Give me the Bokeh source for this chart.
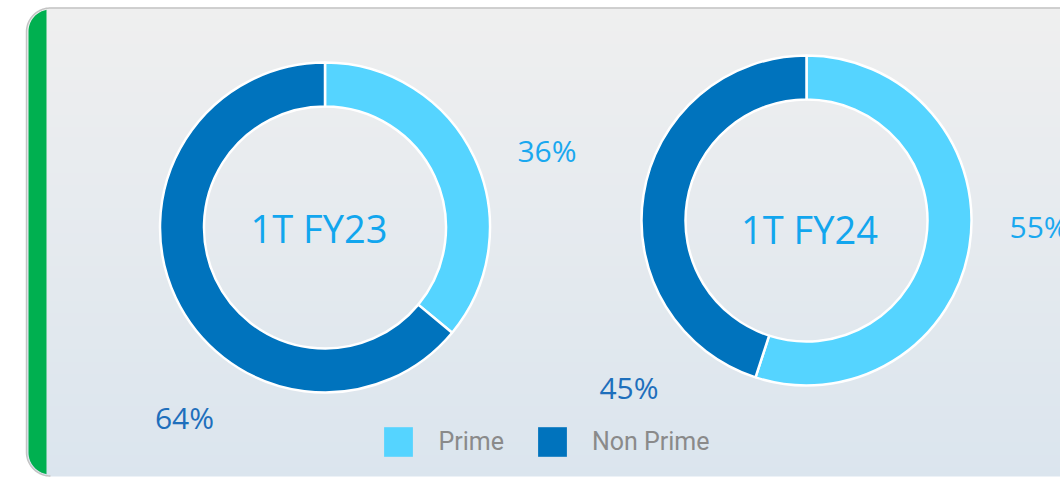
import numpy as np
from bokeh.plotting import figure
from bokeh.models import Range1d, ColumnDataSource, Legend, LegendItem
from bokeh.core.properties import value
from bokeh.embed import file_html
from bokeh.resources import INLINE

# ---------------- data ----------------
periods = ["1T FY23", "1T FY24"]
categories = ["Prime", "Non Prime"]
prime_pct = [36, 55]
non_prime_pct = [64, 45]
category_colors = ["#55d4ff", "#0073bd"]

# ---------------- layout (page pixels, y downward) ----------------
centers_x = [324.5, 806.0]
centers_y = [227.0, 220.0]
R_OUT, R_IN = 165, 121
title_pos = [(318.5, 227.0), (809.0, 228.5)]
prime_label_pos = [(546.5, 150.0, "center"), (1009.0, 225.5, "left")]
nonprime_label_pos = [(184.0, 416.5, "center"), (628.5, 386.5, "center")]
FONT = "Open Sans"
LEGEND_FONT = "Roboto"

W, H = 1060, 477
p = figure(width=W, height=H, x_range=Range1d(0, W), y_range=Range1d(-H, 0),
           output_backend="svg", toolbar_location=None,
           x_axis_location=None, y_axis_location=None, min_border=0)
p.grid.visible = False
p.outline_line_color = None
p.background_fill_color = "white"
p.border_fill_color = "white"

# ---------------- card background (vertical gradient) ----------------
CT, CL, CB = 7.0, 26.0, 476.0
step = 3
gy = np.arange(CT, CB, step)
t = (gy - CT) / (CB - CT)
c0 = np.array([239, 239, 239])
c1 = np.array([219, 229, 238])
gcols = ["#%02x%02x%02x" % tuple(np.round(c0 + (c1 - c0) * ti).astype(int)) for ti in t]
p.quad(left=CL, right=1075, top=list(-gy.astype(float)), bottom=list(-(gy + step + 0.5).astype(float)),
       fill_color=gcols, line_color=None)

# rounded corner masks
RC = 24
th_t = np.linspace(np.pi / 2, np.pi, 30)
arc_tx = CL + RC + RC * np.cos(th_t)
arc_ty = (CT + RC) - RC * np.sin(th_t)
mx = [CL - 6, CL + RC, CL + RC] + list(arc_tx) + [CL - 6]
my = [CT - 6, CT - 6, CT] + list(arc_ty) + [CT + RC]
p.patch(mx, [-v for v in my], fill_color="white", line_color=None)

th_b = np.linspace(np.pi, 1.5 * np.pi, 30)
arc_bx = CL + RC + RC * np.cos(th_b)
arc_by = (CB - RC) - RC * np.sin(th_b)
mx = [CL - 6] + list(arc_bx) + [CL + RC, CL + RC, CL - 6]
my = [CB - RC] + list(arc_by) + [CB, 480, 480]
p.patch(mx, [-v for v in my], fill_color="white", line_color=None)
p.quad(left=CL - 6, right=1075, top=-CB, bottom=-480, fill_color="white", line_color=None)

# card border
bx = [1075, CL + RC] + list(arc_tx) + list(arc_bx)
by = [CT + 0.5, CT + 0.5] + list(arc_ty + 0.5) + list(arc_by - 0.5)
p.line(bx, [-v for v in by], line_color="#c4c4c4", line_width=1.5)

# green accent (left border)
RG = RC - 2
cxg, cyt, cyb = CL + RC, CT + RC, CB - RC
a_top = np.arccos((46 - cxg) / RG)
th1 = np.linspace(a_top, np.pi, 25)
th2 = np.linspace(np.pi, 2 * np.pi - a_top, 25)
gx = list(cxg + RG * np.cos(th1)) + list(cxg + RG * np.cos(th2))
gyy = list(cyt - RG * np.sin(th1)) + list(cyb - RG * np.sin(th2))
p.patch(gx, [-v for v in gyy], fill_color="#00b050", line_color=None)

# ---------------- donuts ----------------
wx, wy, ws, we, wc = [], [], [], [], []
for i in range(len(periods)):
    a0 = np.pi / 2
    a1 = a0 - prime_pct[i] / 100.0 * 2 * np.pi
    a2 = a1 - non_prime_pct[i] / 100.0 * 2 * np.pi
    wx += [centers_x[i], centers_x[i]]
    wy += [-centers_y[i], -centers_y[i]]
    ws += [a0, a1]
    we += [a1, a2]
    wc += [category_colors[0], category_colors[1]]
src = ColumnDataSource(dict(x=wx, y=wy, start=ws, end=we, color=wc))
p.annular_wedge(x="x", y="y", inner_radius=R_IN, outer_radius=R_OUT,
                start_angle="start", end_angle="end", direction="clock",
                fill_color="color", line_color="white", line_width=2.5, source=src)

# centre titles
p.text(x=[q[0] for q in title_pos], y=[-q[1] for q in title_pos], text=periods,
       text_font=value(FONT), text_font_size="38px", text_color="#12a6ee",
       text_align="center", text_baseline="alphabetic")

# percentage labels
for pos, vals, col in ((prime_label_pos, prime_pct, "#1aa8ef"),
                       (nonprime_label_pos, non_prime_pct, "#1e6fbc")):
    for (lx, ly, al), v in zip(pos, vals):
        p.text(x=[lx], y=[-ly], text=[f"{v}%"], text_font=value(FONT),
               text_font_size="30px", text_color=col, text_align=al,
               text_baseline="alphabetic")

# ---------------- legend ----------------
items = []
for cat, col in zip(categories, category_colors):
    # legend proxy placed outside the visible range
    r = p.quad(left=[-60], right=[-50], top=[-60], bottom=[-70], fill_color=col, line_color=None)
    items.append(LegendItem(label=cat, renderers=[r]))
legend = Legend(items=items, orientation="horizontal", location=(380.4, 17.25),
                glyph_width=36, glyph_height=37, label_standoff=22, spacing=30,
                padding=0, margin=0, border_line_color=None, background_fill_alpha=0,
                label_text_font=LEGEND_FONT, label_text_font_size="25px",
                label_text_color="#8a8a8a", label_height=37)
p.add_layout(legend)

open("out.html", "w").write(file_html(p, INLINE))
